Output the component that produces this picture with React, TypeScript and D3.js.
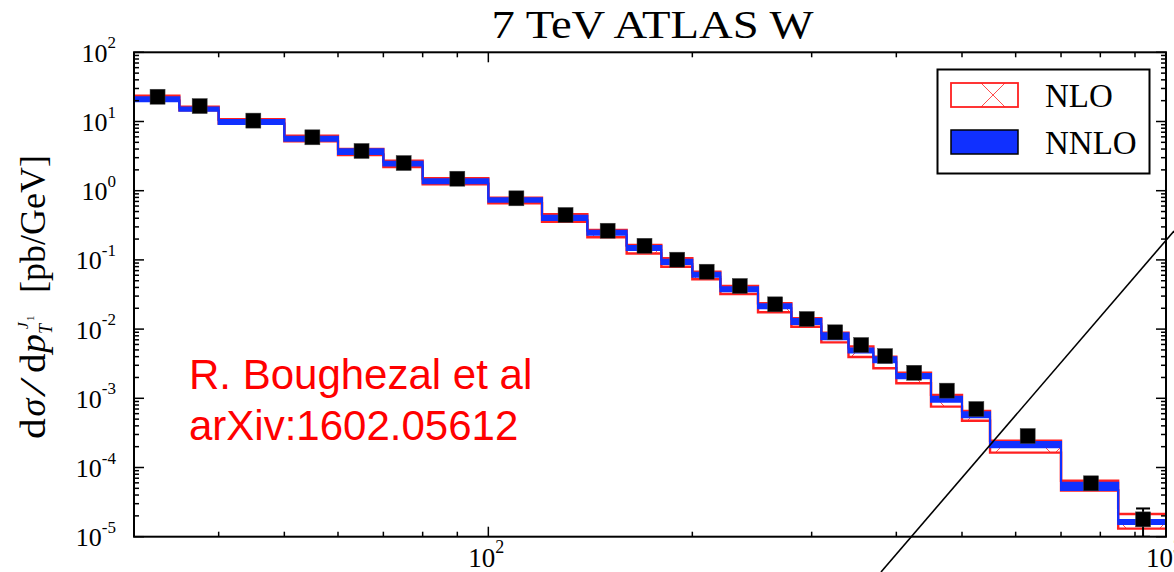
import React from 'react';
import * as d3 from 'd3';

// ---- data ----
const binEdges = [30, 35, 40, 50, 60, 70, 80, 100, 120, 140, 160, 180, 200, 220, 250, 280, 310, 340, 370, 400, 450, 500, 550, 700, 850, 1000];

const dataValues = [22.8, 16.7, 10.3, 5.91, 3.75, 2.51, 1.49, 0.776, 0.446, 0.264, 0.160, 0.1007, 0.0675, 0.0420, 0.0228, 0.0140, 0.00899, 0.00589, 0.00408, 0.00234, 0.00129, 0.000700, 0.000285, 5.91e-5, 1.78e-5];
const dataErrors = [0, 0, 0, 0, 0, 0, 0, 0, 0, 0, 0, 0, 0, 0, 0, 0, 0, 0, 0, 0, 0, 0, 0, 0, 0.78e-5];

const nloHigh = [23.6, 16.4, 10.8, 6.23, 4.01, 2.71, 1.51, 0.792, 0.456, 0.270, 0.164, 0.1054, 0.0675, 0.0420, 0.0236, 0.01432, 0.00887, 0.00561, 0.00399, 0.00234, 0.00112, 0.000655, 0.000244, 6.44e-5, 2.13e-5];
const nloLow = [20.1, 14.5, 9.35, 5.17, 3.28, 2.20, 1.24, 0.658, 0.356, 0.212, 0.124, 0.0798, 0.0525, 0.0321, 0.0175, 0.01083, 0.00644, 0.00395, 0.00272, 0.00165, 0.000757, 0.000474, 0.000164, 4.66e-5, 1.31e-5];

const nnloHigh = [22.4, 16.0, 10.5, 6.03, 3.96, 2.62, 1.46, 0.776, 0.436, 0.264, 0.159, 0.1007, 0.0653, 0.0402, 0.0228, 0.0140, 0.00869, 0.00525, 0.00391, 0.00224, 0.00105, 0.000628, 0.000233, 6.03e-5, 1.74e-5];
const nnloLow = [19.6, 14.3, 9.2, 5.28, 3.39, 2.31, 1.28, 0.693, 0.377, 0.231, 0.139, 0.0873, 0.0571, 0.0352, 0.0200, 0.01186, 0.00713, 0.00459, 0.00331, 0.00195, 0.000893, 0.000531, 0.000196, 4.73e-5, 1.53e-5];

const xDomain = [30, 1000];
const yDomain = [1e-5, 1e2];
const xMajorLabels = [100, 1000];
const legendLabels = ['NLO', 'NNLO'];
const titleText = '7 TeV ATLAS W';
const annotationLines = ['R. Boughezal et al', 'arXiv:1602.05612'];

// hand-drawn overlay line (not data)
const overlayLine = { x1: 881, y1: 572, x2: 1174, y2: 231 };

const RED = '#ff2020';
const BLUE = '#1030ff';
const SERIF = "'Liberation Serif', 'Times New Roman', serif";
const SANS = "'Liberation Sans', Arial, sans-serif";

// y-label glyph layout: [text, start along text (screen y), baseline offset, font size, italic, horizontal scale]
const yLabelGlyphs: [string, number, number, number, boolean, number][] = [
  ['d', 439, 0, 36, false, 1.15],
  ['σ', 416.5, 0, 36, true, 1.0],
  ['/', 395, 0, 36, true, 1.4],
  ['d', 373, 0, 36, false, 1.08],
  ['p', 353, 0, 36, true, 1.05],
  ['T', 334, 7, 18, true, 1.0],
  ['J', 329, -17, 15, true, 1.0],
  ['1', 321, -11, 11, false, 1.0],
  ['[pb/GeV]', 293, 0, 36, false, 1.0],
];

export default function App() {
  const W = 1174, H = 572;
  const L = 134, R = 1166, T = 52.3, B = 536.7;
  const x = d3.scaleLog().domain(xDomain).range([L, R]);
  const y = d3.scaleLog().domain(yDomain).range([B, T]);
  const n = dataValues.length;

  type Pt = { e: number; lo: number; hi: number };
  const band = (lo: number[], hi: number[]): Pt[] => {
    const pts: Pt[] = lo.map((v, i) => ({ e: binEdges[i], lo: v, hi: hi[i] }));
    pts.push({ e: binEdges[n], lo: lo[n - 1], hi: hi[n - 1] });
    return pts;
  };
  const nloPts = band(nloLow, nloHigh);
  const nnloPts = band(nnloLow, nnloHigh);

  const area = d3.area<Pt>().x(d => x(d.e)).y0(d => y(d.lo)).y1(d => y(d.hi)).curve(d3.curveStepAfter);
  const lineHi = d3.line<Pt>().x(d => x(d.e)).y(d => y(d.hi)).curve(d3.curveStepAfter);
  const lineLo = d3.line<Pt>().x(d => x(d.e)).y(d => y(d.lo)).curve(d3.curveStepAfter);

  const isMajor = (v: number) => Math.abs(Math.log10(v) - Math.round(Math.log10(v))) < 1e-9;
  const xTicks = x.ticks().filter(v => v >= xDomain[0] && v <= xDomain[1]);
  const yTicks = y.ticks().filter(v => v >= yDomain[0] && v <= yDomain[1]);
  const yMajor = yTicks.filter(isMajor);

  const msize = 15;

  return (
    <svg width={W} height={H} style={{ position: 'absolute', left: 0, top: 0, background: '#fff' }}>
      <style>{`body{margin:0}`}</style>
      <defs>
        <clipPath id="plotClip">
          <rect x={L} y={T} width={R - L} height={B - T} />
        </clipPath>
        <pattern id="nloHatch" patternUnits="userSpaceOnUse" x={993} y={95} width={60} height={60}>
          <path d="M0,0L60,60M60,0L0,60" stroke={RED} strokeWidth={1} opacity={0.8} />
        </pattern>
      </defs>
      <rect x={0} y={0} width={W} height={H} fill="#fff" />

      {/* title */}
      <text x={652.5} y={37.5} textAnchor="middle" fontFamily={SERIF} fontSize={40}
        textLength={322} lengthAdjust="spacingAndGlyphs" fill="#000">{titleText}</text>

      {/* bands */}
      <g clipPath="url(#plotClip)">
        <path d={area(nloPts) || ''} fill="url(#nloHatch)" />
        <path d={lineHi(nloPts) || ''} fill="none" stroke={RED} strokeWidth={2.4} />
        <path d={lineLo(nloPts) || ''} fill="none" stroke={RED} strokeWidth={2.4} />
        <path d={area(nnloPts) || ''} fill={BLUE} />
        <path d={lineHi(nnloPts) || ''} fill="none" stroke={BLUE} strokeWidth={2} />
        <path d={lineLo(nnloPts) || ''} fill="none" stroke={BLUE} strokeWidth={2} />

        {/* data */}
        {dataValues.map((v, i) => {
          const cx = x((binEdges[i] + binEdges[i + 1]) / 2);
          const cy = y(v);
          const err = dataErrors[i];
          return (
            <g key={i}>
              {err > 0 && (
                <g stroke="#000" strokeWidth={2}>
                  <line x1={cx} x2={cx} y1={y(v + err)} y2={y(Math.max(v - err, 1e-7))} />
                  <line x1={cx - 7} x2={cx + 7} y1={y(v + err)} y2={y(v + err)} />
                  <line x1={cx - 7} x2={cx + 7} y1={y(Math.max(v - err, 1e-7))} y2={y(Math.max(v - err, 1e-7))} />
                </g>
              )}
              <rect x={cx - msize / 2} y={cy - msize / 2} width={msize} height={msize} fill="#000" stroke="#444" strokeWidth={0.5} />
            </g>
          );
        })}
      </g>

      {/* axes frame and ticks */}
      <g stroke="#000" strokeWidth={1.5}>
        {xTicks.map((v, i) => {
          const len = isMajor(v) ? 10 : 5;
          const px = x(v);
          return (
            <g key={'xt' + i}>
              <line x1={px} x2={px} y1={B} y2={B - len} />
              <line x1={px} x2={px} y1={T} y2={T + len} />
            </g>
          );
        })}
        {yTicks.map((v, i) => {
          const len = isMajor(v) ? 10 : 5;
          const py = y(v);
          return (
            <g key={'yt' + i}>
              <line x1={L} x2={L + len} y1={py} y2={py} />
              <line x1={R} x2={R - len} y1={py} y2={py} />
            </g>
          );
        })}
      </g>
      <rect x={L} y={T} width={R - L} height={B - T} fill="none" stroke="#000" strokeWidth={2} />

      {/* y tick labels */}
      {yMajor.map((v, i) => {
        const e = Math.round(Math.log10(v));
        return (
          <text key={'yl' + i} x={116} y={y(v) + 9.5} textAnchor="end" fontFamily={SERIF} fontSize={26} fill="#000">
            10<tspan dy={-13.4} fontSize={17}>{e < 0 ? '-' + Math.abs(e) : String(e)}</tspan>
          </text>
        );
      })}

      {/* x tick labels */}
      {xMajorLabels.map((v, i) => {
        const e = Math.round(Math.log10(v));
        return (
          <text key={'xl' + i} x={x(v) - 2} y={567} textAnchor="middle" fontFamily={SERIF} fontSize={27} fill="#000">
            10<tspan dy={-14} fontSize={18}>{String(e)}</tspan>
          </text>
        );
      })}

      {/* y axis label */}
      <g transform="translate(45,0) rotate(-90)">
        {yLabelGlyphs.map(([s, start, off, fs, it, sc], i) => (
          <text key={'yg' + i} transform={`translate(${-start},${off}) scale(${sc},1)`}
            fontFamily={SERIF} fontSize={fs} fontStyle={it ? 'italic' : 'normal'} fill="#000">{s}</text>
        ))}
      </g>

      {/* red annotation */}
      {annotationLines.map((s, i) => (
        <text key={'an' + i} x={189} y={389 + i * 51} fontFamily={SANS} fontSize={42} fill="#ff0000">{s}</text>
      ))}

      {/* legend */}
      <g>
        <rect x={937.5} y={69.5} width={212} height={104} fill="#fff" stroke="#000" strokeWidth={2} />
        <rect x={951} y={83} width={67} height={24} fill="url(#nloHatch)" stroke={RED} strokeWidth={1.8} />
        <rect x={951} y={130} width={67} height={24} fill={BLUE} stroke="#000" strokeWidth={1.5} />
        {legendLabels.map((s, i) => (
          <text key={'lg' + i} x={1045} y={106.5 + i * 47.5} fontFamily={SERIF} fontSize={33} fill="#000">{s}</text>
        ))}
      </g>

      {/* overlay diagonal line */}
      <line {...overlayLine} stroke="#000" strokeWidth={1.6} />
    </svg>
  );
}
